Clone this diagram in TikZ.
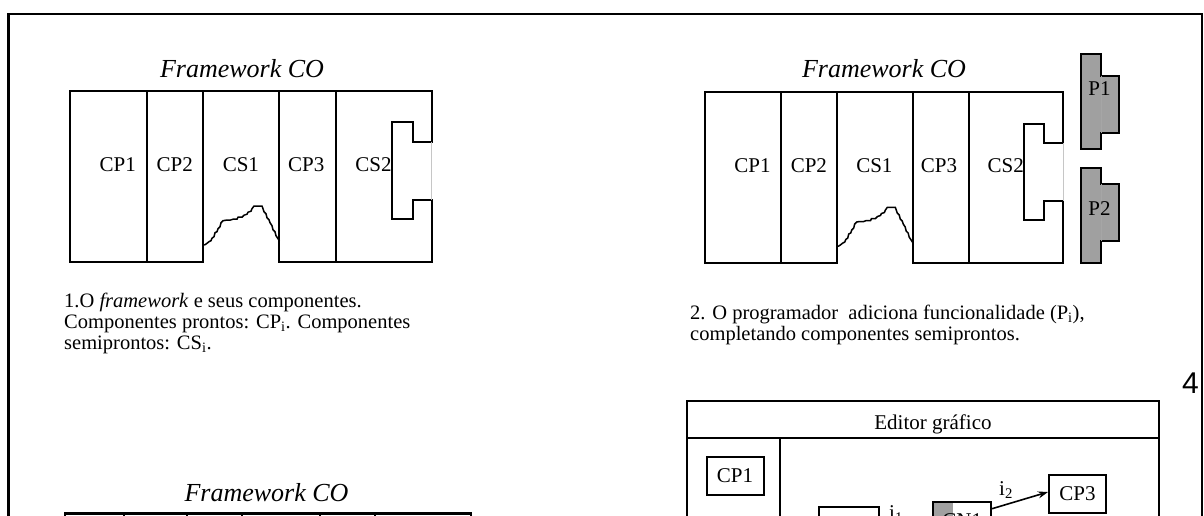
\documentclass[tikz,border=0pt]{standalone}
\usepackage{fontspec}
\setmainfont{Liberation Serif}
\newfontfamily\pagenofont{Liberation Sans}
\usetikzlibrary{arrows.meta}
\definecolor{pgray}{RGB}{160,160,160}
\begin{document}
\begin{tikzpicture}[x=1pt, y=-1pt, every node/.style={inner sep=0pt},
        lbl/.style={font=\fontsize{21}{23.5}\selectfont},
        ttl/.style={font=\fontsize{26}{30}\selectfont\itshape},
        captext/.style={font=\fontsize{20.5}{21.2}\selectfont, align=left, anchor=north west},
        edbox/.style={draw, line width=2pt, minimum width=57pt, minimum height=38pt, font=\fontsize{21}{23.5}\selectfont},
        piece/.style={fill=pgray, draw, line width=2pt},
        fwblock/.pic={
            % outline with open bottom under CS1 and the notch in CS2
            \draw[line width=2pt] (132.8,154.3) -- (132.8,171) -- (0,171) -- (0,0) -- (361.7,0)
                -- (361.7,51) -- (342.5,51) -- (342.5,31.6) -- (322.3,31.6) -- (322.3,128.3)
                -- (342.5,128.3) -- (342.5,109.3) -- (361.7,109.3) -- (361.7,171) -- (209.4,171) -- (209.4,150.3);
            \draw[gray!45, line width=0.8pt] (361.7,51) -- (361.7,109.3);
            \foreach \dx in {77,266} \draw[line width=2pt] (\dx,0) -- (\dx,171);
            \draw[line width=2pt] (132.8,0) -- (132.8,154.3);
            \draw[line width=2pt] (209.4,0) -- (209.4,150.3);
            % broken edge of CS1
            \draw[line width=1.5pt] (132.8,154.3) -- (135,154) -- (137,152.6) -- (139,151) -- (141,150) -- (142,147.5)
                -- (144,146) -- (145,142) -- (147,141) -- (148,138) -- (150,136) -- (151,132) -- (153,130)
                -- (156,129.5) -- (160,129.5) -- (163,128.5) -- (167,128.5) -- (168,126.5) -- (172,126.5)
                -- (174,124.5) -- (177,123.5) -- (178,121.5) -- (181,120.5) -- (182,118) -- (184,115.3)
                -- (192,115.3) -- (193,118) -- (194,121) -- (196,123) -- (197,127) -- (199,129) -- (200,132)
                -- (202,135) -- (203,139) -- (205,141) -- (206,145) -- (208,148) -- (209.4,150.3);
            % component names
            \node[lbl, anchor=base] (-cp1) at (47.7,80.3) {CP1};
            \node[lbl, anchor=base] (-cp2) at (104.7,80.3) {CP2};
            \node[lbl, anchor=base] (-cs1) at (170.9,80.3) {CS1};
            \node[lbl, anchor=base] (-cp3) at (236.2,80.3) {CP3};
            \node[lbl, anchor=base] (-cs2) at (303.5,80.3) {CS2};
        }]
    \useasboundingbox (0,0) rectangle (1204,515);
    \clip (0,0) rectangle (1204,515);

    % Panel 1
    \node[ttl, anchor=base] (ttla) at (242,77) {Framework CO};
    \pic (fwa) at (70,90.7) {fwblock};
    \node[captext] (capa) at (64,292.5)
        {1.O \textit{framework} e seus componentes.\\Componentes prontos: CP\textsubscript{i}. Componentes\\semiprontos: CS\textsubscript{i}.};

    % Panel 2
    \node[ttl, anchor=base] (ttlb) at (884,77) {Framework CO};
    \pic[xscale=0.99] (fwb) at (705.2,92) {fwblock};
    \draw[piece] (1081.4,54) -- (1101.3,54) -- (1101.3,75.7) -- (1119.3,75.7) -- (1119.3,132.7)
        -- (1101.3,132.7) -- (1101.3,149) -- (1081.4,149) -- cycle;
    \draw[piece] (1081.4,168.3) -- (1101.3,168.3) -- (1101.3,184.3) -- (1119.3,184.3) -- (1119.3,241)
        -- (1101.3,241) -- (1101.3,263.3) -- (1081.4,263.3) -- cycle;
    \draw[gray!70, line width=0.8pt] (1101.3,75.7) -- (1101.3,132.7);
    \draw[gray!70, line width=0.8pt] (1101.3,184.3) -- (1101.3,241);
    \node[lbl, anchor=base] (p1) at (1099.5,95) {P1};
    \node[lbl, anchor=base] (p2) at (1099.5,215) {P2};
    \node[captext] (capb) at (690,305)
        {2. O programador\ \ adiciona funcionalidade (P\textsubscript{i}),\\completando componentes semiprontos.};

    % page number, hidden by the frame
    \begin{scope}
        \clip (1100,340) rectangle (1201,420);
        \node[anchor=base west, font=\pagenofont\fontsize{30}{32}\selectfont] (pageno) at (1182,393.3) {41};
    \end{scope}

    % Panel 3 (cut)
    \node[ttl, anchor=base] (ttlc) at (266.5,501) {Framework CO};
    \draw[line width=2.4pt] (65,530) -- (65,513.3) -- (470.7,513.3) -- (470.7,530);
    \foreach \dx in {124.4,186.8,241.9,319.6,375} \draw[line width=2pt] (\dx,513.3) -- (\dx,530);

    % Panel 4: graphic editor (cut)
    \draw[line width=2pt] (687.3,530) -- (687.3,400.5) -- (1159,400.5) -- (1159,530);
    \draw[line width=2pt] (687.3,438) -- (1159,438);
    \draw[line width=2pt] (780.3,438) -- (780.3,530);
    \node[lbl, anchor=base] (edtitle) at (933,429.3) {Editor gráfico};
    \node[edbox] (ecp1) at (735,475.9) {CP1};
    \node[edbox] (ecp3) at (1077.5,494) {CP3};
    \node[edbox, minimum width=60pt] (ecx) at (849.3,525.7) {};
    \node[edbox, minimum width=57.7pt, path picture={\fill[pgray] (path picture bounding box.north west)
        rectangle ([xshift=20pt]path picture bounding box.south west);}] (ecn1) at (962.2,520.7) {CN1};
    \node[lbl, anchor=base west] (ei1) at (889,519) {i\textsubscript{1}};
    \node[lbl, anchor=base west] (ei2) at (999,495) {i\textsubscript{2}};
    \draw[line width=1.6pt, -{Stealth[length=10pt,width=7pt]}] ([yshift=-8pt]ecn1.north east) -- ([yshift=2pt]ecp3.west);

    % outer frame
    \draw[line width=2.2pt] (8.4,530) -- (8.4,14) -- (1202,14) -- (1202,530);
\end{tikzpicture}
\end{document}
